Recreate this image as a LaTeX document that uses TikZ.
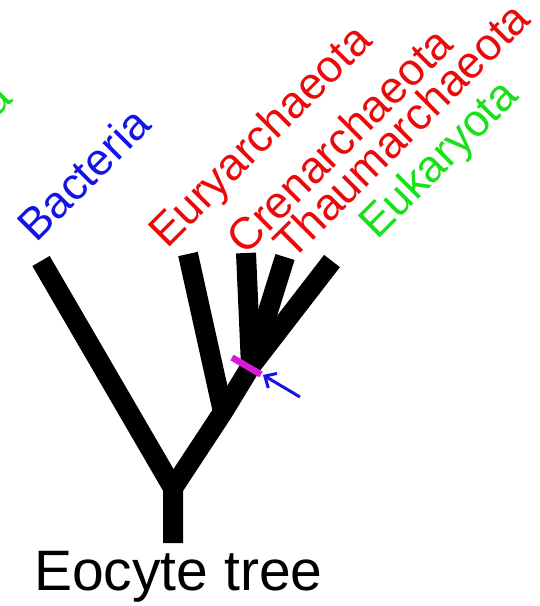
\documentclass[tikz,border=0pt]{standalone}
\usepackage{fontspec}
\setmainfont{Liberation Sans}
\usetikzlibrary{arrows.meta,calc}
\definecolor{labred}{RGB}{235,10,10}
\definecolor{labblue}{RGB}{20,20,230}
\definecolor{labgreen}{RGB}{25,225,25}
\definecolor{cutmag}{RGB}{215,25,215}
\begin{document}
\begin{tikzpicture}[x=1pt,y=-1pt,
 branch/.style={line width=20pt,line cap=butt,line join=miter},
 taxon/.style={anchor=base west,rotate=45,inner sep=0pt,font=\fontsize{45}{50}\selectfont}]
 \useasboundingbox (0,0) rectangle (539,606);
 \coordinate (base) at (173,543);
 \coordinate (root) at (173,488);
 \coordinate (bact) at (41,261);
 \coordinate (euryfork) at (223,412);
 \coordinate (eury) at (188,254);
 \coordinate (tack) at (251,366);
 \coordinate (cren) at (246,253);
 \coordinate (thaum) at (285,257);
 \coordinate (euk) at (332,261);
 \draw[branch] (bact)--(root)--(base);
 \draw[branch] (root)--(euryfork)--(tack)--(euk);
 \draw[branch] (euryfork)--(eury);
 \draw[branch] (tack)--(cren);
 \draw[branch] (tack)--(thaum);
 \coordinate (cut) at (247,366);
 \draw[cutmag,line width=6.5pt] ($(cut)+(-15,-8.5)$)--($(cut)+(14,8.5)$);
 \coordinate (arrtail) at (300,397);
 \coordinate (arrtip) at (263,375);
 \draw[labblue,line width=3pt,-{Straight Barb[length=9pt,width=17pt]}] (arrtail)--(arrtip);
 \node[taxon,text=labblue] (bactlabel) at (36,244) {Bacteria};
 \node[taxon,text=labred] (eurylabel) at (167,250) {Euryarchaeota};
 \node[taxon,text=labred] (crenlabel) at (245,257) {Crenarchaeota};
 \node[taxon,text=labred] (thaumlabel) at (292,262) {Thaumarchaeota};
 \node[taxon,text=labgreen] (euklabel) at (377,241) {Eukaryota};
 \node[taxon,anchor=base east,text=labgreen] (edgelabel) at (14,101) {a};
 \node[anchor=base west,inner sep=0pt,font=\fontsize{57}{64}\selectfont] (title) at (34,590) {Eocyte tree};
\end{tikzpicture}
\end{document}
